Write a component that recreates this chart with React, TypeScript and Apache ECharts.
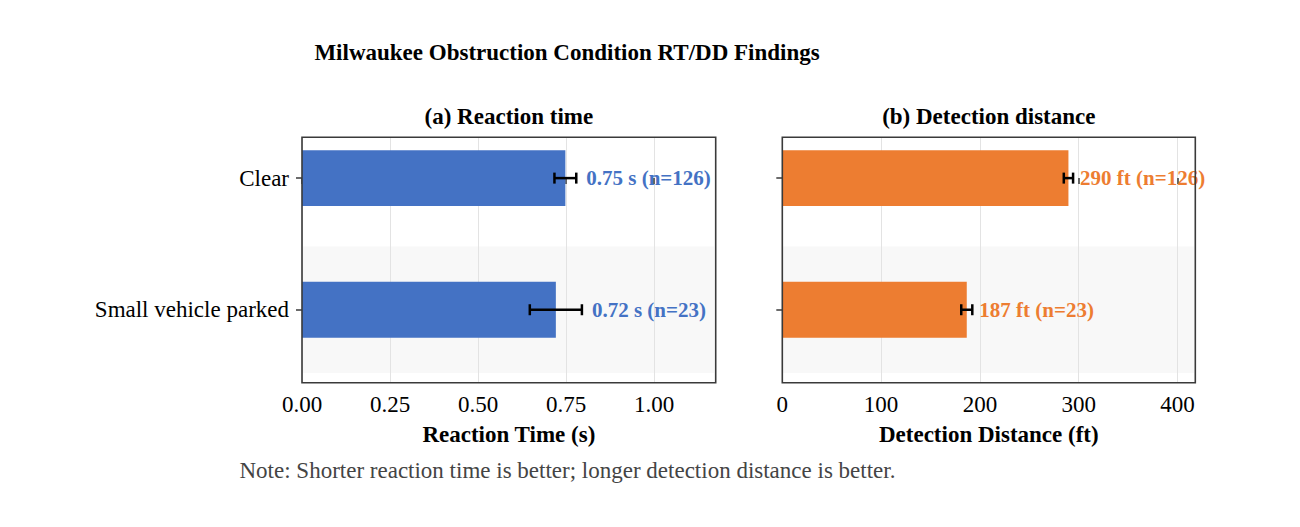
import React, { useEffect, useRef } from "react";
import * as echarts from "echarts";

// ---- data ----
const categories = ["Clear", "Small vehicle parked"];
const sampleSizes = [126, 23];
const rtMeans = [0.748, 0.721];
const rtErrors = [0.031, 0.074];
const ddMeans = [289.6, 186.7];
const ddErrors = [4.7, 5.6];
const rtTicks = [0, 0.25, 0.5, 0.75, 1.0];
const ddTicks = [0, 100, 200, 300, 400];
const rtMax = 1.175;
const ddMax = 418;

const FONT = "'Liberation Serif', 'Times New Roman', serif";
const BLUE = "#4472C4";
const ORANGE = "#ED7D31";
const FRAME = "#3a3a3a";

const GRID_TOP = 137.3;
const GRID_H = 245.5;
const GRIDS = [
  { left: 302, width: 413.7 },
  { left: 782.3, width: 413 },
];

function makeBand(gridIndex: number) {
  const rows = categories.map((_, i) => i).filter((i) => i % 2 === 1);
  return {
    type: "custom",
    xAxisIndex: gridIndex,
    yAxisIndex: gridIndex,
    z: -1,
    silent: true,
    clip: false,
    data: rows.map((r) => [0, r]),
    encode: { x: 0, y: 1 },
    renderItem: (params: any, api: any) => {
      const cs = params.coordSys;
      const idx = api.value(1);
      const a = api.coord([0, idx - 0.48]);
      const b = api.coord([0, idx + 0.48]);
      return {
        type: "rect",
        shape: { x: cs.x, y: Math.min(a[1], b[1]), width: cs.width - 1.5, height: Math.abs(b[1] - a[1]) },
        style: { fill: "#f8f8f8" },
      };
    },
  };
}

function makeMain(gridIndex: number, means: number[], errs: number[], color: string, fmt: (m: number, n: number) => string, gap: number) {
  return {
    type: "custom",
    xAxisIndex: gridIndex,
    yAxisIndex: gridIndex,
    clip: false,
    z: 5,
    data: means.map((m, i) => [m, i, errs[i], sampleSizes[i]]),
    encode: { x: 0, y: 1 },
    renderItem: (params: any, api: any) => {
      const mean = api.value(0);
      const idx = api.value(1);
      const err = api.value(2);
      const n = api.value(3);
      const p0 = api.coord([0, idx - 0.2125]);
      const p1 = api.coord([mean, idx + 0.2125]);
      const lo = api.coord([mean - err, idx]);
      const hi = api.coord([mean + err, idx]);
      const cap = 5.5;
      return {
        type: "group",
        children: [
          {
            type: "rect",
            shape: { x: p0[0], y: Math.min(p0[1], p1[1]), width: p1[0] - p0[0], height: Math.abs(p1[1] - p0[1]) },
            style: { fill: color },
          },
          {
            type: "line",
            shape: { x1: lo[0], y1: lo[1], x2: hi[0], y2: hi[1] },
            style: { stroke: "#000", lineWidth: 2.5 },
          },
          {
            type: "line",
            shape: { x1: lo[0], y1: lo[1] - cap, x2: lo[0], y2: lo[1] + cap },
            style: { stroke: "#000", lineWidth: 2.5 },
          },
          {
            type: "line",
            shape: { x1: hi[0], y1: hi[1] - cap, x2: hi[0], y2: hi[1] + cap },
            style: { stroke: "#000", lineWidth: 2.5 },
          },
          {
            type: "text",
            style: {
              text: fmt(mean, n),
              x: hi[0] + gap,
              y: hi[1],
              fill: color,
              fontSize: 21,
              fontWeight: "bold",
              fontFamily: FONT,
              align: "left",
              verticalAlign: "middle",
              textAlign: "left",
              textVerticalAlign: "middle",
            },
          },
        ],
      };
    },
  };
}

function textEl(text: string, x: number, y: number, size: number, bold: boolean, align: string, fill = "#000") {
  return {
    type: "text",
    x,
    y,
    silent: true,
    z: 100,
    style: {
      text,
      fill,
      fontSize: size,
      fontWeight: bold ? "bold" : "normal",
      fontFamily: FONT,
      align,
      verticalAlign: "middle",
      textAlign: align,
      textVerticalAlign: "middle",
    },
  };
}

export default function App() {
  const ref = useRef<HTMLDivElement>(null);
  useEffect(() => {
    if (!ref.current) return;
    const chart = echarts.init(ref.current, null, { renderer: "svg" });
    const axisMaxes = [rtMax, ddMax];
    const tickSets = [rtTicks, ddTicks];
    const intervals = [0.25, 100];
    const fmts = [(v: number) => v.toFixed(2), (v: number) => String(Math.round(v))];

    const option: any = {
      animation: false,
      backgroundColor: "#ffffff",
      grid: GRIDS.map((g) => ({ left: g.left, top: GRID_TOP, width: g.width, height: GRID_H, containLabel: false })),
      xAxis: GRIDS.map((_, i) => ({
        type: "value",
        gridIndex: i,
        min: 0,
        max: axisMaxes[i],
        interval: intervals[i],
        axisLine: { show: false },
        axisTick: {
          show: true,
          length: 6,
          customValues: tickSets[i],
          lineStyle: { color: FRAME, width: 1.5 },
        },
        axisLabel: {
          show: true,
          customValues: tickSets[i],
          formatter: fmts[i],
          fontSize: 23,
          fontFamily: FONT,
          color: "#000",
          margin: 10,
        },
        splitLine: { show: true, lineStyle: { color: "#e3e3e3", width: 1 } },
      })),
      yAxis: GRIDS.map((_, i) => ({
        type: "value",
        gridIndex: i,
        inverse: true,
        min: -0.31,
        max: 1.555,
        axisLine: { show: false },
        splitLine: { show: false },
        axisTick: {
          show: true,
          length: 6,
          customValues: categories.map((_, k) => k),
          lineStyle: { color: FRAME, width: 1.5 },
        },
        axisLabel: {
          show: i === 0,
          customValues: categories.map((_, k) => k),
          formatter: (v: number) => categories[Math.round(v)] ?? "",
          fontSize: 23,
          fontFamily: FONT,
          color: "#000",
          margin: 13,
        },
      })),
      series: [
        makeBand(0),
        makeBand(1),
        makeMain(0, rtMeans, rtErrors, BLUE, (m, n) => `${m.toFixed(2)} s (n=${n})`, 10),
        makeMain(1, ddMeans, ddErrors, ORANGE, (m, n) => `${Math.round(m)} ft (n=${n})`, 7),
      ],
      graphic: {
        elements: [
          ...GRIDS.map((g) => ({
            type: "rect",
            silent: true,
            z: 100,
            shape: { x: g.left, y: GRID_TOP, width: g.width, height: GRID_H },
            style: { fill: "none", stroke: FRAME, lineWidth: 1.6 },
          })),
          textEl("Milwaukee Obstruction Condition RT/DD Findings", 314.4, 52.8, 23, true, "left"),
          textEl("(a) Reaction time", GRIDS[0].left + GRIDS[0].width / 2, 116.7, 23, true, "center"),
          textEl("(b) Detection distance", GRIDS[1].left + GRIDS[1].width / 2, 116.7, 23, true, "center"),
          textEl("Reaction Time (s)", GRIDS[0].left + GRIDS[0].width / 2, 434, 23, true, "center"),
          textEl("Detection Distance (ft)", GRIDS[1].left + GRIDS[1].width / 2, 434, 23, true, "center"),
          textEl("Note: Shorter reaction time is better; longer detection distance is better.", 239.5, 470, 23, false, "left", "#444444"),
        ],
      },
    };
    chart.setOption(option);
    return () => chart.dispose();
  }, []);
  return <div ref={ref} style={{ position: "fixed", left: 0, top: 0, width: 1300, height: 527, background: "#fff" }} />;
}
